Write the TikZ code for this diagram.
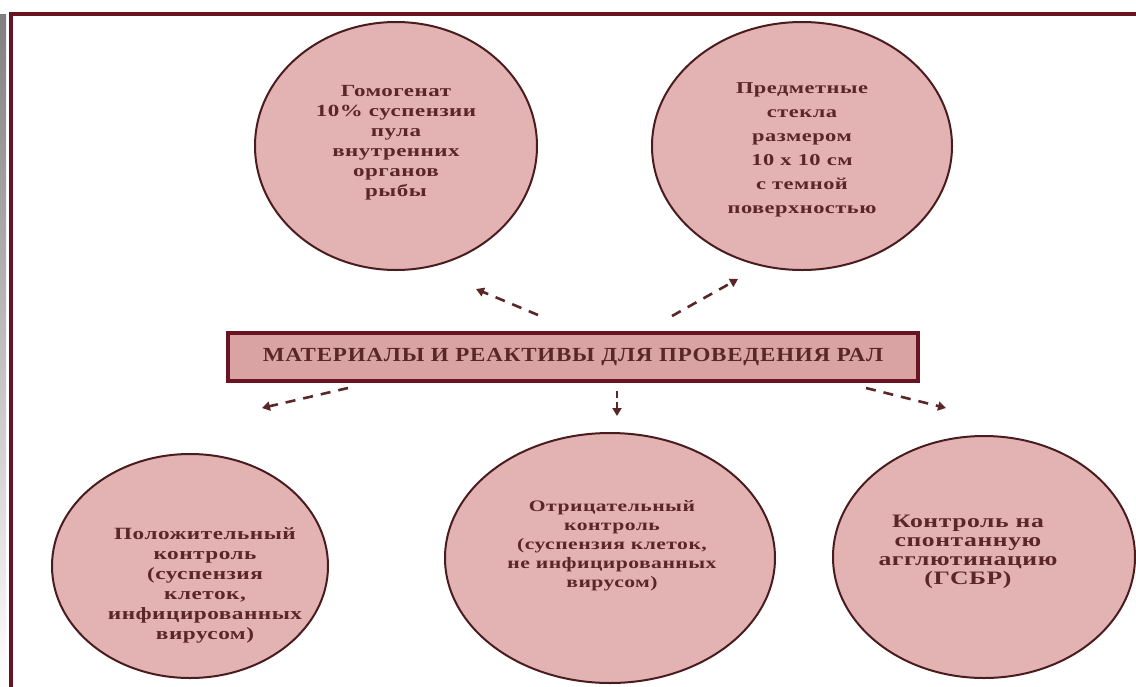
\documentclass[tikz,border=0pt]{standalone}
\usepackage{fontspec}
\setmainfont{Liberation Serif}
\usetikzlibrary{shapes.geometric,arrows.meta}
\definecolor{rose}{HTML}{E3B3B3}
\definecolor{boxfill}{HTML}{D9A3A3}
\definecolor{edge}{HTML}{4A1C1E}
\definecolor{ink}{HTML}{5A2628}
\definecolor{frame}{HTML}{6A1422}
\definecolor{shade}{HTML}{D4D4D4}
\newcommand{\bubblefont}[2]{\fontsize{#1}{#2}\selectfont\bfseries\addfontfeature{FakeStretch=1.35,LetterSpace=3}}
\tikzset{
  bubble/.style={ellipse, draw=edge, line width=2pt, fill=rose, inner sep=0pt},
  btext/.style={text=ink, align=center, inner sep=0pt},
  dasharrow/.style={draw=ink, line width=2.6pt, dash pattern=on 10pt off 8pt,
    -{Triangle[length=8pt,width=9pt]}},
  titlebox/.style={draw=frame, line width=3.5pt, fill=boxfill, inner sep=0pt,
    minimum width=690pt, minimum height=48pt, text=ink,
    font=\fontsize{20}{24}\selectfont\bfseries\addfontfeature{FakeStretch=1.15,LetterSpace=4}},
}
\begin{document}
\begin{tikzpicture}[x=1pt,y=-1pt]
\useasboundingbox[fill=white] (0,0) rectangle (1136,686);
% left gray strip and frame
\fill[shade] (0,14) rectangle (6,686);
\draw[frame, line width=3.5pt] (11,690) -- (11,14) -- (1140,14);

% ellipses
\node[bubble, minimum width=282pt, minimum height=248pt] (e1) at (396,146) {};
\node[bubble, minimum width=300pt, minimum height=248pt] (e2) at (802,146) {};
\node[bubble, minimum width=276pt, minimum height=224pt] (e3) at (190,566) {};
\node[bubble, minimum width=330pt, minimum height=250pt] (e4) at (610,558) {};
\node[bubble, minimum width=302pt, minimum height=242pt] (e5) at (984,557) {};

% texts
\node[btext, font=\bubblefont{17}{20}] (t1) at (396,143) {Гомогенат\\10\% суспензии\\пула\\внутренних\\органов\\рыбы};
\node[btext, font=\bubblefont{16.6}{24}] (t2) at (802,150) {Предметные\\стекла\\размером\\10 x 10 см\\с темной\\поверхностью};
\node[btext, font=\bubblefont{17.2}{20}] (t3) at (205,585) {Положительный\\контроль\\(суспензия\\клеток,\\инфицированных\\вирусом)};
\node[btext, font=\bubblefont{16}{19}] (t4) at (612,546) {Отрицательный\\контроль\\(суспензия клеток,\\не инфицированных\\вирусом)};
\node[btext, font=\bubblefont{19}{19}] (t5) at (968,552) {Контроль на\\спонтанную\\агглютинацию\\(ГСБР)};

% central box
\node[titlebox] (box) at (573,357) {МАТЕРИАЛЫ И РЕАКТИВЫ ДЛЯ ПРОВЕДЕНИЯ РАЛ};

% arrow ends
\coordinate (s1) at (538,315); \coordinate (d1) at (476,289);
\coordinate (s2) at (672,316); \coordinate (d2) at (738,279);
\coordinate (s3) at (348,388); \coordinate (d3) at (262,408);
\coordinate (s4) at (617,391); \coordinate (d4) at (617,416);
\coordinate (s5) at (866,388); \coordinate (d5) at (946,408);
\draw[dasharrow] (s1) -- (d1);
\draw[dasharrow] (s2) -- (d2);
\draw[dasharrow] (s3) -- (d3);
\draw[dasharrow, dash pattern=on 7pt off 4pt] (s4) -- (d4);
\draw[dasharrow] (s5) -- (d5);
\end{tikzpicture}
\end{document}
